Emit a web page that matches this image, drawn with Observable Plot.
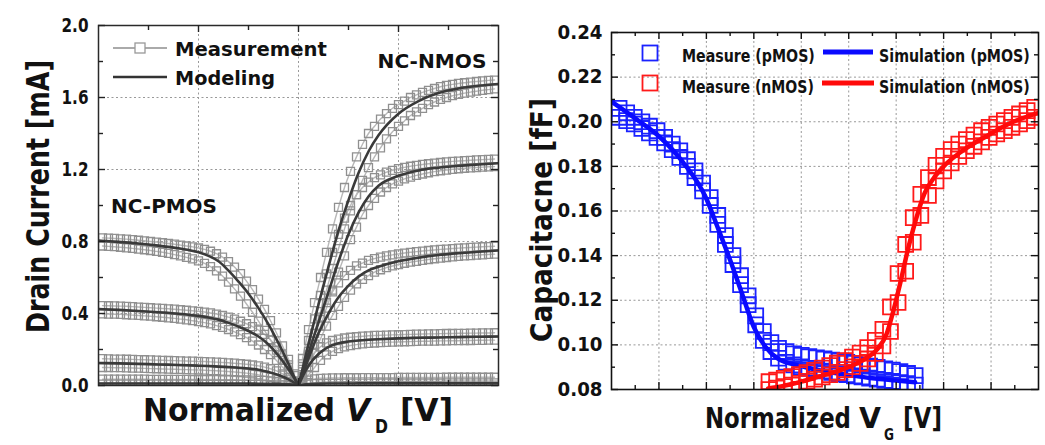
<!DOCTYPE html>
<html><head><meta charset="utf-8">
<script src="https://cdn.jsdelivr.net/npm/d3@7"></script>
<script src="https://cdn.jsdelivr.net/npm/@observablehq/plot@0.6"></script>
<style>
html,body{margin:0;padding:0;background:#fff;}
#wrap{position:relative;width:1045px;height:445px;display:flex;overflow:hidden;}
#topline{position:absolute;left:0;top:5px;width:1045px;height:1px;background:#e6e6e6;}
#left,#right{position:relative;}
svg{display:block;}
</style></head><body>
<div id="wrap"><div id="topline"></div><div id="left"></div><div id="right"></div></div>
<script>
// ---------------- LEFT PANEL DATA (Drain current) ----------------
const vdN = [0.02,0.05,0.08,0.11,0.14,0.17,0.20,0.23,0.26,0.29,0.32,0.35,0.38,0.41,0.44,0.47,0.50,0.53,0.56,0.59,0.62,0.65,0.68,0.71,0.74,0.77,0.80,0.83,0.86,0.89,0.92,0.95,0.98];
const n1Up = [0.15,0.31,0.46,0.60,0.74,0.87,0.99,1.10,1.19,1.27,1.34,1.40,1.44,1.48,1.51,1.54,1.56,1.58,1.60,1.615,1.628,1.64,1.65,1.66,1.667,1.673,1.678,1.682,1.686,1.689,1.692,1.695,1.697];
const n1Lo = [0.05,0.17,0.29,0.41,0.53,0.65,0.76,0.87,0.97,1.06,1.14,1.21,1.27,1.32,1.37,1.41,1.44,1.47,1.50,1.52,1.54,1.56,1.575,1.59,1.60,1.61,1.617,1.624,1.63,1.635,1.64,1.644,1.648];
const n2Up = [0.12,0.25,0.37,0.50,0.62,0.74,0.84,0.93,1.00,1.06,1.10,1.13,1.155,1.17,1.185,1.195,1.205,1.212,1.218,1.223,1.228,1.232,1.236,1.239,1.242,1.245,1.247,1.249,1.251,1.253,1.255,1.256,1.258];
const n2Lo = [0.04,0.13,0.23,0.33,0.43,0.53,0.63,0.72,0.81,0.88,0.95,1.00,1.04,1.075,1.10,1.12,1.135,1.148,1.158,1.167,1.175,1.182,1.188,1.193,1.197,1.201,1.204,1.207,1.209,1.211,1.213,1.215,1.216];
const n3Up = [0.09,0.19,0.29,0.38,0.46,0.52,0.57,0.61,0.64,0.665,0.68,0.695,0.705,0.713,0.72,0.726,0.731,0.736,0.74,0.744,0.747,0.75,0.753,0.756,0.758,0.761,0.763,0.765,0.767,0.769,0.771,0.772,0.774];
const n3Lo = [0.03,0.10,0.18,0.26,0.33,0.39,0.44,0.49,0.53,0.565,0.59,0.61,0.63,0.643,0.655,0.664,0.672,0.679,0.685,0.69,0.695,0.70,0.704,0.708,0.711,0.714,0.717,0.72,0.722,0.724,0.726,0.728,0.73];
const n4Up = [0.06,0.13,0.18,0.215,0.237,0.25,0.258,0.264,0.268,0.271,0.274,0.276,0.278,0.279,0.28,0.281,0.282,0.283,0.284,0.285,0.286,0.287,0.287,0.288,0.289,0.289,0.29,0.29,0.291,0.291,0.292,0.292,0.293];
const n4Lo = [0.02,0.06,0.10,0.14,0.17,0.19,0.205,0.215,0.222,0.227,0.231,0.234,0.236,0.238,0.24,0.241,0.242,0.243,0.244,0.245,0.246,0.246,0.247,0.248,0.248,0.249,0.249,0.25,0.25,0.251,0.251,0.252,0.252];
const n5Up = [0.015,0.03,0.037,0.04,0.041,0.042,0.042,0.043,0.043,0.043,0.044,0.044,0.044,0.044,0.044,0.044,0.045,0.045,0.045,0.045,0.045,0.045,0.045,0.045,0.046,0.046,0.046,0.046,0.046,0.046,0.046,0.046,0.046];
const n5Lo = [0.004,0.008,0.01,0.011,0.012,0.012,0.012,0.013,0.013,0.013,0.013,0.013,0.013,0.014,0.014,0.014,0.014,0.014,0.014,0.014,0.014,0.014,0.014,0.014,0.015,0.015,0.015,0.015,0.015,0.015,0.015,0.015,0.015];

const vdP = [-0.98,-0.95,-0.92,-0.89,-0.86,-0.83,-0.80,-0.77,-0.74,-0.71,-0.68,-0.65,-0.62,-0.59,-0.56,-0.53,-0.50,-0.47,-0.44,-0.41,-0.38,-0.35,-0.32,-0.29,-0.26,-0.23,-0.20,-0.17,-0.14,-0.11,-0.08,-0.05,-0.02];
const p1Up = [0.82,0.819,0.817,0.815,0.813,0.81,0.807,0.804,0.80,0.797,0.793,0.789,0.785,0.78,0.775,0.77,0.764,0.756,0.746,0.732,0.713,0.688,0.658,0.622,0.58,0.533,0.48,0.423,0.36,0.292,0.22,0.145,0.065];
const p1Lo = [0.775,0.773,0.771,0.768,0.765,0.762,0.758,0.754,0.75,0.745,0.74,0.734,0.727,0.72,0.712,0.703,0.692,0.678,0.66,0.637,0.608,0.574,0.537,0.497,0.453,0.407,0.358,0.306,0.252,0.196,0.139,0.08,0.025];
const p2Up = [0.444,0.443,0.442,0.441,0.44,0.438,0.436,0.434,0.432,0.43,0.428,0.426,0.424,0.421,0.418,0.415,0.412,0.408,0.403,0.397,0.389,0.38,0.369,0.357,0.343,0.327,0.308,0.284,0.254,0.216,0.17,0.115,0.055];
const p2Lo = [0.398,0.397,0.396,0.395,0.393,0.391,0.389,0.387,0.385,0.382,0.379,0.376,0.373,0.369,0.365,0.36,0.355,0.349,0.342,0.333,0.323,0.311,0.298,0.283,0.266,0.247,0.225,0.2,0.172,0.139,0.102,0.063,0.022];
const p3Up = [0.149,0.148,0.147,0.147,0.146,0.145,0.144,0.143,0.142,0.141,0.14,0.139,0.138,0.137,0.136,0.135,0.134,0.133,0.131,0.13,0.128,0.126,0.124,0.121,0.118,0.114,0.109,0.102,0.093,0.081,0.065,0.045,0.02];
const p3Lo = [0.1,0.1,0.099,0.099,0.098,0.097,0.096,0.095,0.094,0.093,0.092,0.091,0.09,0.089,0.088,0.087,0.086,0.085,0.083,0.082,0.08,0.078,0.075,0.072,0.069,0.064,0.059,0.052,0.045,0.036,0.027,0.017,0.007];
const p4Up = [0.035,0.035,0.035,0.035,0.035,0.035,0.035,0.035,0.034,0.034,0.034,0.034,0.034,0.034,0.034,0.033,0.033,0.033,0.033,0.033,0.032,0.032,0.032,0.031,0.031,0.030,0.029,0.028,0.026,0.023,0.019,0.013,0.006];
const p4Lo = [0.008,0.008,0.008,0.008,0.008,0.008,0.008,0.008,0.008,0.008,0.008,0.008,0.008,0.008,0.008,0.008,0.007,0.007,0.007,0.007,0.007,0.007,0.007,0.006,0.006,0.006,0.006,0.005,0.005,0.004,0.003,0.002,0.001];

const vdModelN = [0,0.025,0.05,0.1,0.15,0.2,0.25,0.3,0.35,0.4,0.5,0.6,0.7,0.8,0.9,1.0];
const n1Model = [0,0.115,0.23,0.45,0.66,0.86,1.03,1.18,1.30,1.39,1.51,1.58,1.625,1.65,1.665,1.675];
const n2Model = [0,0.09,0.18,0.35,0.52,0.69,0.84,0.96,1.05,1.11,1.165,1.195,1.21,1.22,1.228,1.235];
const n3Model = [0,0.075,0.15,0.29,0.40,0.49,0.555,0.605,0.64,0.66,0.69,0.71,0.725,0.735,0.743,0.75];
const n4Model = [0,0.06,0.11,0.175,0.215,0.235,0.244,0.25,0.254,0.257,0.262,0.265,0.267,0.269,0.271,0.272];
const n5Model = [0,0.005,0.008,0.01,0.011,0.011,0.011,0.012,0.012,0.012,0.012,0.012,0.012,0.012,0.012,0.012];
const vdModelP = [-1.0,-0.9,-0.8,-0.7,-0.6,-0.5,-0.45,-0.4,-0.35,-0.3,-0.25,-0.2,-0.15,-0.1,-0.05,-0.02,0];
const p1Model = [0.805,0.798,0.789,0.777,0.762,0.74,0.72,0.69,0.638,0.577,0.51,0.43,0.34,0.235,0.12,0.045,0];
const p2Model = [0.425,0.42,0.414,0.407,0.399,0.387,0.378,0.366,0.348,0.327,0.303,0.272,0.228,0.166,0.09,0.038,0];
const p3Model = [0.125,0.123,0.12,0.117,0.114,0.11,0.108,0.105,0.102,0.099,0.094,0.088,0.075,0.058,0.034,0.015,0];
const p4Model = [0.011,0.011,0.011,0.011,0.011,0.011,0.011,0.011,0.011,0.011,0.011,0.01,0.01,0.009,0.007,0.004,0];

const idTicks = [0,0.4,0.8,1.2,1.6,2.0];
const idMinor = [0.2,0.6,1.0,1.4,1.8];
const idGrid = [0.4,0.8,1.2,1.6];
const vdMajor = [-0.5,0,0.5];
const vdMinor = [-0.75,-0.25,0.25,0.75];
const annText = ["NC-NMOS","NC-PMOS"];
const annX = [0.67,-0.67];
const annY = [1.76,0.955];

// ---------------- RIGHT PANEL DATA (Capacitance) ----------------
const vgP = [0.16,0.32,0.48,0.64,0.80,0.96,1.12,1.28,1.44,1.60,1.76,1.92,2.08,2.24,2.40,2.56,2.72,2.88,3.04,3.20,3.36,3.52,3.68,3.84,4.00,4.16,4.32,4.48,4.64,4.80,4.96,5.12,5.28,5.44,5.60,5.76,5.92,6.08,6.24,6.40];
const pMeasA = [0.206,0.204,0.202,0.200,0.198,0.196,0.193,0.190,0.187,0.183,0.178,0.1725,0.166,0.158,0.149,0.140,0.131,0.122,0.113,0.106,0.101,0.0985,0.097,0.096,0.0953,0.0947,0.0942,0.0937,0.0932,0.0927,0.0922,0.0917,0.0911,0.0905,0.0899,0.0893,0.0887,0.088,0.0872,0.0862];
const pMeasB = [0.202,0.2005,0.199,0.197,0.195,0.193,0.1905,0.1875,0.184,0.18,0.175,0.169,0.1625,0.154,0.145,0.136,0.127,0.118,0.109,0.102,0.097,0.094,0.0922,0.091,0.0902,0.0895,0.0889,0.0883,0.0877,0.0871,0.0866,0.0861,0.0856,0.0851,0.0846,0.0841,0.0836,0.0831,0.0826,0.082];
const vgN = [3.32,3.48,3.64,3.80,3.96,4.12,4.28,4.44,4.60,4.76,4.92,5.08,5.24,5.40,5.56,5.72,5.88,6.04,6.20,6.36,6.52,6.68,6.84,7.00,7.16,7.32,7.48,7.64,7.80,7.96,8.12,8.28,8.44,8.60,8.76,8.92];
const nMeasA = [0.0835,0.0842,0.085,0.0858,0.0867,0.0876,0.0886,0.0896,0.0907,0.0918,0.093,0.0945,0.0963,0.0988,0.102,0.107,0.117,0.132,0.145,0.157,0.1675,0.175,0.1805,0.1845,0.1875,0.190,0.192,0.194,0.196,0.1975,0.199,0.2005,0.202,0.2035,0.205,0.2065];
const nMeasB = [0.080,0.0806,0.0813,0.082,0.0828,0.0837,0.0846,0.0856,0.0866,0.0877,0.0889,0.0902,0.0917,0.0937,0.0962,0.0995,0.106,0.119,0.133,0.146,0.158,0.167,0.1735,0.178,0.1815,0.1845,0.187,0.189,0.191,0.193,0.1945,0.196,0.1975,0.199,0.2005,0.202];
const vgSimP = [0,0.5,1,1.5,2,2.25,2.5,2.75,3,3.25,3.5,4,4.5,5,5.5,6,6.4];
const simP = [0.209,0.2015,0.1935,0.182,0.1655,0.152,0.138,0.123,0.108,0.099,0.094,0.0905,0.0882,0.0865,0.085,0.084,0.0832];
const vgSimN = [3.3,3.6,4.0,4.4,4.8,5.1,5.4,5.6,5.8,5.95,6.1,6.25,6.4,6.6,6.8,7.0,7.4,7.9,8.4,9.0];
const simN = [0.0805,0.0815,0.0835,0.086,0.0885,0.091,0.0945,0.098,0.105,0.116,0.129,0.143,0.155,0.168,0.175,0.18,0.187,0.1935,0.1993,0.204];

const cTicks = [0.08,0.10,0.12,0.14,0.16,0.18,0.20,0.22,0.24];
const cMinor = [0.09,0.11,0.13,0.15,0.17,0.19,0.21,0.23];
const cGrid = [0.10,0.12,0.14,0.16,0.18,0.20,0.22];
const vgMajor = [1,2,3,4,5,6,7,8];
const vgMinor = [0.5,1.5,2.5,3.5,4.5,5.5,6.5,7.5,8.5];

// ---------------- helpers ----------------
const FONT = '"DejaVu Sans", Verdana, sans-serif';
const NS = "http://www.w3.org/2000/svg";
const zip = (xs, ys, s) => xs.map((x, i) => ({x, y: ys[i], s}));
// horizontally condense an existing text element about its anchor point
function squeeze(t, len) {
  const nat = t.getComputedTextLength();
  if (!nat || !len) return;
  const sx = len / nat;
  const xa = parseFloat(t.getAttribute("x"));
  const x = isFinite(xa) ? xa : 0;
  const tr = t.getAttribute("transform") || "";
  t.setAttribute("transform", `${tr} translate(${x},0) scale(${sx.toFixed(4)},1) translate(${-x},0)`);
}
function addText(svg, o) {
  const el = document.createElementNS(NS, "text");
  el.setAttribute("text-anchor", o.anchor || "start");
  el.setAttribute("font-family", FONT);
  el.setAttribute("font-weight", "bold");
  el.setAttribute("font-size", o.size);
  if (o.italic) el.setAttribute("font-style", "italic");
  el.setAttribute("fill", o.fill || "#111");
  el.textContent = o.t;
  svg.appendChild(el);
  const nat = el.getComputedTextLength();
  const sx = o.len && nat ? o.len / nat : 1;
  el.setAttribute("transform", `translate(${o.x},${o.y})${o.rot ? ` rotate(${o.rot})` : ""} scale(${sx.toFixed(4)},1)`);
  return el;
}
function addEl(svg, tag, attrs) {
  const el = document.createElementNS(NS, tag);
  for (const k in attrs) el.setAttribute(k, attrs[k]);
  svg.appendChild(el);
  return el;
}
function fitTickLabels(svg, len) {
  svg.querySelectorAll('g[aria-label*="tick label"] text').forEach(t => squeeze(t, len));
}

// ---------------- LEFT PLOT ----------------
const L = {width: 520, height: 445, ml: 98, mr: 22, mt: 25, mb: 60};
const lpw = L.width - L.ml - L.mr, lph = L.height - L.mt - L.mb;
const measL = [
  zip(vdN, n1Up, "n1u"), zip(vdN, n1Lo, "n1l"), zip(vdN, n2Up, "n2u"), zip(vdN, n2Lo, "n2l"),
  zip(vdN, n3Up, "n3u"), zip(vdN, n3Lo, "n3l"), zip(vdN, n4Up, "n4u"), zip(vdN, n4Lo, "n4l"),
  zip(vdN, n5Up, "n5u"), zip(vdN, n5Lo, "n5l"),
  zip(vdP, p1Up, "p1u"), zip(vdP, p1Lo, "p1l"), zip(vdP, p2Up, "p2u"), zip(vdP, p2Lo, "p2l"),
  zip(vdP, p3Up, "p3u"), zip(vdP, p3Lo, "p3l"), zip(vdP, p4Up, "p4u"), zip(vdP, p4Lo, "p4l")
].flat();
const modelL = [
  zip(vdModelN, n1Model, "n1"), zip(vdModelN, n2Model, "n2"), zip(vdModelN, n3Model, "n3"),
  zip(vdModelN, n4Model, "n4"), zip(vdModelN, n5Model, "n5"),
  zip(vdModelP, p1Model, "p1"), zip(vdModelP, p2Model, "p2"), zip(vdModelP, p3Model, "p3"), zip(vdModelP, p4Model, "p4")
].flat();
const tickStyle = {stroke: "#222", strokeWidth: 1.4};
const gridStyle = {stroke: "#999", strokeOpacity: 1, strokeWidth: 1, strokeDasharray: "2,2.5"};

const left = Plot.plot({
  width: L.width, height: L.height,
  marginLeft: L.ml, marginRight: L.mr, marginTop: L.mt, marginBottom: L.mb,
  style: {fontFamily: FONT, fontWeight: "bold", fontSize: "19px", color: "#111", background: "white", overflow: "visible"},
  x: {domain: [-1, 1], axis: null},
  y: {domain: [0, 2], axis: null},
  marks: [
    Plot.gridX(vdMajor, gridStyle),
    Plot.gridY(idGrid, gridStyle),
    Plot.line(measL, {x: "x", y: "y", z: "s", stroke: "#b8b8b8", strokeWidth: 1.4, curve: "monotone-x", clip: true}),
    Plot.dot(measL, {x: "x", y: "y", symbol: "square", r: 4.5, stroke: "#909090", strokeWidth: 1.3, fill: "none", clip: true}),
    Plot.line(modelL, {x: "x", y: "y", z: "s", stroke: "#3a3a3a", strokeWidth: 2.6, curve: "monotone-x", clip: true}),
    Plot.frame({stroke: "#2a2a2a", strokeWidth: 1.5}),
    Plot.tickY(idTicks, {y: d => d, insetRight: lpw - 7, ...tickStyle}),
    Plot.tickY(idMinor, {y: d => d, insetRight: lpw - 5, ...tickStyle}),
    Plot.tickY(idTicks, {y: d => d, insetLeft: lpw - 7, ...tickStyle}),
    Plot.tickY(idMinor, {y: d => d, insetLeft: lpw - 5, ...tickStyle}),
    Plot.tickX(vdMajor, {x: d => d, insetBottom: lph - 7, ...tickStyle}),
    Plot.tickX(vdMinor, {x: d => d, insetBottom: lph - 5, ...tickStyle}),
    Plot.tickX(vdMajor, {x: d => d, insetTop: lph - 7, ...tickStyle}),
    Plot.tickX(vdMinor, {x: d => d, insetTop: lph - 5, ...tickStyle}),
    Plot.axisY(idTicks, {tickSize: 0, tickPadding: 10, label: null, tickFormat: d => d.toFixed(1), fontSize: 19, fontWeight: "bold", fill: "#111"})
  ]
});
document.getElementById("left").appendChild(left);
fitTickLabels(left, 27);
{
  const xs = left.scale("x"), ys = left.scale("y");
  annText.forEach((t, i) => addText(left, {x: xs.apply(annX[i]), y: ys.apply(annY[i]), t, size: 19.5, anchor: "middle", len: i === 0 ? 109 : 106}));
  // legend
  addEl(left, "line", {x1: 113, x2: 167, y1: 48, y2: 48, stroke: "#aaa", "stroke-width": 2});
  addEl(left, "rect", {x: 135, y: 43, width: 10, height: 10, fill: "white", stroke: "#999", "stroke-width": 1.3});
  addText(left, {x: 175, y: 56, t: "Measurement", size: 19, len: 152});
  addEl(left, "line", {x1: 113, x2: 167, y1: 77, y2: 77, stroke: "#333", "stroke-width": 2.6});
  addText(left, {x: 175, y: 85, t: "Modeling", size: 19, len: 100});
  // axis titles
  addText(left, {x: 49, y: 196.5, rot: -90, t: "Drain Current [mA]", size: 31.5, anchor: "middle", len: 273});
  addText(left, {x: 143, y: 421, t: "Normalized", size: 32, len: 192});
  addText(left, {x: 346, y: 421, t: "V", size: 32, italic: true, len: 24});
  addText(left, {x: 375, y: 433, t: "D", size: 19, len: 13});
  addText(left, {x: 400, y: 421, t: "[V]", size: 32, len: 53});
}

// ---------------- RIGHT PLOT ----------------
const R = {width: 525, height: 445, ml: 91, mr: 7, mt: 32, mb: 56};
const rpw = R.width - R.ml - R.mr, rph = R.height - R.mt - R.mb;
const blueMeas = [zip(vgP, pMeasA, "a"), zip(vgP, pMeasB, "b")].flat();
const redMeas = [zip(vgN, nMeasA, "a"), zip(vgN, nMeasB, "b")].flat();
const blueSim = zip(vgSimP, simP, "p");
const redSim = zip(vgSimN, simN, "n");
const BLUE = "#1a22ff", RED = "#ff1a1a";
const tickR = {stroke: "#111", strokeWidth: 1.4};

const right = Plot.plot({
  width: R.width, height: R.height,
  marginLeft: R.ml, marginRight: R.mr, marginTop: R.mt, marginBottom: R.mb,
  style: {fontFamily: FONT, fontWeight: "bold", fontSize: "19.5px", color: "#111", background: "white", overflow: "visible"},
  x: {domain: [0, 9], axis: null},
  y: {domain: [0.08, 0.24], axis: null},
  marks: [
    Plot.gridX(vgMajor, gridStyle),
    Plot.gridY(cGrid, gridStyle),
    Plot.dot(blueMeas, {x: "x", y: "y", symbol: "square", r: 8.4, stroke: BLUE, strokeWidth: 1.8, fill: "none", clip: true}),
    Plot.line(blueSim, {x: "x", y: "y", stroke: "#0a0aff", strokeWidth: 4.5, curve: "monotone-x", clip: true}),
    Plot.dot(redMeas, {x: "x", y: "y", symbol: "square", r: 8.4, stroke: RED, strokeWidth: 1.8, fill: "none", clip: true}),
    Plot.line(redSim, {x: "x", y: "y", stroke: "#ff0a0a", strokeWidth: 4.5, curve: "monotone-x", clip: true}),
    Plot.frame({stroke: "#111", strokeWidth: 1.6}),
    Plot.tickY(cTicks, {y: d => d, insetRight: rpw - 7, ...tickR}),
    Plot.tickY(cMinor, {y: d => d, insetRight: rpw - 4, ...tickR}),
    Plot.tickY(cTicks, {y: d => d, insetLeft: rpw - 7, ...tickR}),
    Plot.tickY(cMinor, {y: d => d, insetLeft: rpw - 4, ...tickR}),
    Plot.tickX(vgMajor, {x: d => d, insetBottom: rph - 7, ...tickR}),
    Plot.tickX(vgMinor, {x: d => d, insetBottom: rph - 4, ...tickR}),
    Plot.tickX(vgMajor, {x: d => d, insetTop: rph - 7, ...tickR}),
    Plot.tickX(vgMinor, {x: d => d, insetTop: rph - 4, ...tickR}),
    Plot.axisY(cTicks, {tickSize: 0, tickPadding: 9, label: null, tickFormat: d => d.toFixed(2), fontSize: 19.5, fontWeight: "bold", fill: "#111"})
  ]
});
document.getElementById("right").appendChild(right);
fitTickLabels(right, 45);
{
  // legend
  addEl(right, "rect", {x: 122.5, y: 45.5, width: 15, height: 15, fill: "none", stroke: BLUE, "stroke-width": 1.8});
  addText(right, {x: 162, y: 62, t: "Measure (pMOS)", size: 18, len: 133});
  addEl(right, "line", {x1: 303, x2: 353, y1: 52, y2: 52, stroke: "#0a0aff", "stroke-width": 5});
  addText(right, {x: 359, y: 62, t: "Simulation (pMOS)", size: 18, len: 151});
  addEl(right, "rect", {x: 122.5, y: 75.5, width: 15, height: 15, fill: "none", stroke: RED, "stroke-width": 1.8});
  addText(right, {x: 162, y: 93, t: "Measure (nMOS)", size: 18, len: 132});
  addEl(right, "line", {x1: 302, x2: 354, y1: 83, y2: 83, stroke: "#ff0a0a", "stroke-width": 5});
  addText(right, {x: 359, y: 93, t: "Simulation (nMOS)", size: 18, len: 151});
  // axis titles
  addText(right, {x: 32, y: 220, rot: -90, t: "Capacitacne [fF]", size: 31, anchor: "middle", len: 244});
  addText(right, {x: 185, y: 428, t: "Normalized", size: 27.5, len: 146});
  addText(right, {x: 339, y: 428, t: "V", size: 27.5, len: 22});
  addText(right, {x: 364, y: 440, t: "G", size: 15, len: 10});
  addText(right, {x: 383, y: 428, t: "[V]", size: 27.5, len: 39});
}
</script>
</body></html>
